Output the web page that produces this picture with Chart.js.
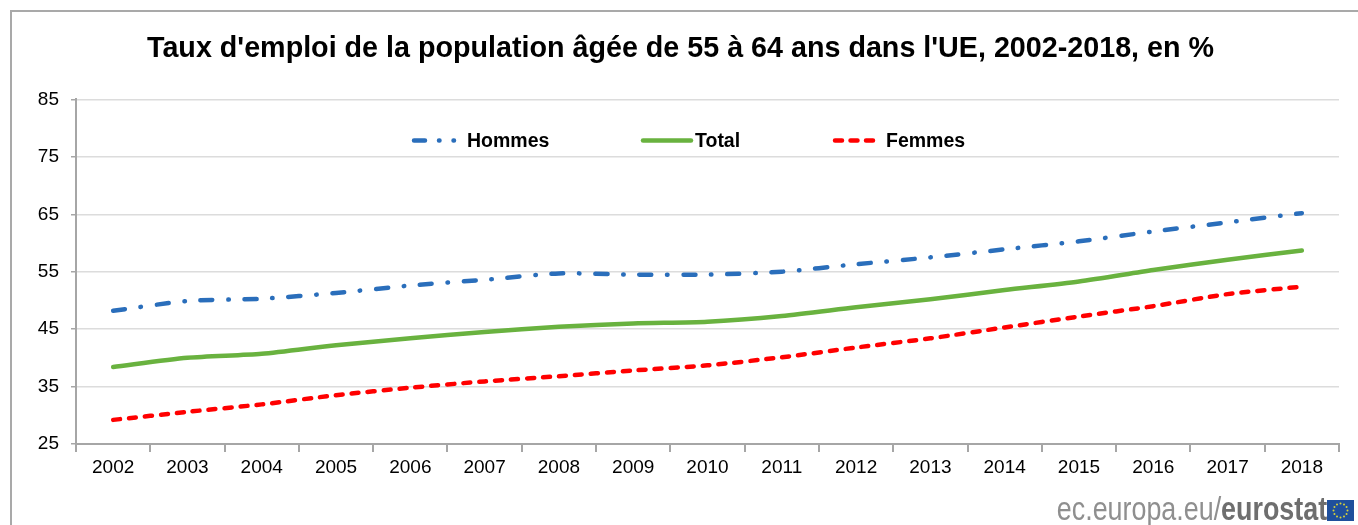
<!DOCTYPE html>
<html lang="fr">
<head>
<meta charset="utf-8">
<title>Taux d'emploi 55-64 ans</title>
<script src="https://cdn.jsdelivr.net/npm/chart.js@4/dist/chart.umd.min.js"></script>
<style>
    html, body { margin: 0; background: #fff; overflow: hidden; }
    #page { position: relative; width: 1358px; height: 525px; overflow: hidden; }
    #frameTop { position: absolute; left: 10px; top: 10px; right: 0; height: 2px; background: #a9a9a9; }
    #frameLeft { position: absolute; left: 10px; top: 10px; bottom: 0; width: 2px; background: #a9a9a9; }
    #chart { position: absolute; left: 22px; top: 0; }
    #logo { position: absolute; right: 31px; top: 490px; font: 34px/36px "Liberation Sans", sans-serif; color: #8f8f8f; white-space: nowrap; transform: scaleX(0.79); transform-origin: right center; }
    #logo b { color: #6e6e6e; }
    #flag { position: absolute; left: 1327px; top: 500px; }
</style>
</head>
<body>
<div id="page">
    <div id="frameTop"></div>
    <div id="frameLeft"></div>
    <canvas id="chart" width="1336" height="525"></canvas>
    <div id="logo">ec.europa.eu/<b>eurostat</b></div>
    <svg id="flag" width="27" height="21" viewBox="0 0 27 21"><rect width="27" height="21" fill="#1f4f9c"/></svg>
</div>
<script>
const years = ['2002', '2003', '2004', '2005', '2006', '2007', '2008', '2009', '2010',
    '2011', '2012', '2013', '2014', '2015', '2016', '2017', '2018'];
const hommes = [48.2, 49.9, 50.3, 51.3, 52.6, 53.6, 54.7, 54.5, 54.5, 55.0, 56.3, 57.5, 58.9, 60.3, 62.0, 63.6, 65.2];
const total = [38.4, 40.0, 40.7, 42.2, 43.4, 44.5, 45.4, 46.0, 46.3, 47.3, 48.8, 50.2, 51.8, 53.3, 55.3, 57.1, 58.7];
const femmes = [29.2, 30.6, 31.9, 33.5, 34.8, 35.9, 36.8, 37.8, 38.7, 40.1, 41.8, 43.4, 45.3, 47.2, 49.0, 51.1, 52.4];

const FONT = '"Liberation Sans", Arial, sans-serif';
const AXIS_COLOR = '#a6a6a6';

// legend sits inside the plot area, so it is drawn by hand
const legendItems = [
    { dataset: 0, x0: 392, x1: 445, dash: [11, 14, 0.5, 14, 0.5, 14], textX: 445 },
    { dataset: 1, x0: 621, x1: 669, dash: [], textX: 673 },
    { dataset: 2, x0: 813, x1: 858, dash: [7, 8.5], textX: 864 }
];

const insideLegend = {
    id: 'insideLegend',
    afterDraw(chart) {
        const ctx = chart.ctx;
        const y = 140.5;
        ctx.save();
        legendItems.forEach(item => {
            const ds = chart.data.datasets[item.dataset];
            ctx.beginPath();
            ctx.strokeStyle = ds.borderColor;
            ctx.lineWidth = ds.borderWidth;
            ctx.lineCap = 'round';
            ctx.setLineDash(item.dash);
            ctx.moveTo(item.x0, y);
            ctx.lineTo(item.x1, y);
            ctx.stroke();
            ctx.setLineDash([]);
            ctx.fillStyle = '#000';
            ctx.font = 'bold 19.5px ' + FONT;
            ctx.textBaseline = 'middle';
            ctx.fillText(ds.label, item.textX, y + 1);
        });
        ctx.restore();
    }
};

new Chart(document.getElementById('chart'), {
    type: 'line',
    data: {
        labels: years,
        datasets: [
            { label: 'Hommes', data: hommes, borderColor: '#2a6ebb', borderWidth: 4.5, borderDash: [12, 15.75, 0.5, 15.75] },
            { label: 'Total', data: total, borderColor: '#69b23f', borderWidth: 4.5 },
            { label: 'Femmes', data: femmes, borderColor: '#ff0000', borderWidth: 4.5, borderDash: [7, 9] }
        ]
    },
    options: {
        responsive: false,
        animation: false,
        layout: { padding: { top: 32, right: 19, bottom: 0, left: 0 } },
        elements: {
            line: { tension: 0.25, borderCapStyle: 'round' },
            point: { radius: 0 }
        },
        plugins: {
            legend: { display: false },
            tooltip: { enabled: false },
            title: {
                display: true,
                text: "Taux d'emploi de la population âgée de 55 à 64 ans dans l'UE, 2002-2018, en %",
                color: '#000',
                font: { family: FONT, size: 28.7, weight: 'bold' },
                padding: { top: 0, bottom: 33 }
            }
        },
        scales: {
            x: {
                offset: true,
                afterFit(scale) { scale.height = 81; },
                border: { color: AXIS_COLOR, width: 2 },
                grid: { offset: true, drawOnChartArea: false, color: AXIS_COLOR, tickLength: 8, lineWidth: 2 },
                ticks: { color: '#000', font: { family: FONT, size: 19 }, padding: 4, maxRotation: 0 }
            },
            y: {
                min: 25,
                max: 85,
                afterFit(scale) { scale.width = 54; },
                border: { color: AXIS_COLOR, width: 2 },
                grid: { color: '#dcdcdc', tickColor: AXIS_COLOR, tickLength: 5, lineWidth: 1.5 },
                ticks: { stepSize: 10, color: '#000', font: { family: FONT, size: 19 }, padding: 12 }
            }
        }
    },
    plugins: [insideLegend]
});

// EU stars on the logo flag
const flag = document.getElementById('flag');
for (let i = 0; i < 12; i++) {
    const a = i * Math.PI / 6;
    const star = document.createElementNS('http://www.w3.org/2000/svg', 'circle');
    star.setAttribute('cx', 13.5 + 7 * Math.sin(a));
    star.setAttribute('cy', 10.5 - 7 * Math.cos(a));
    star.setAttribute('r', 1);
    star.setAttribute('fill', '#d8d23a');
    flag.appendChild(star);
}
</script>
</body>
</html>
